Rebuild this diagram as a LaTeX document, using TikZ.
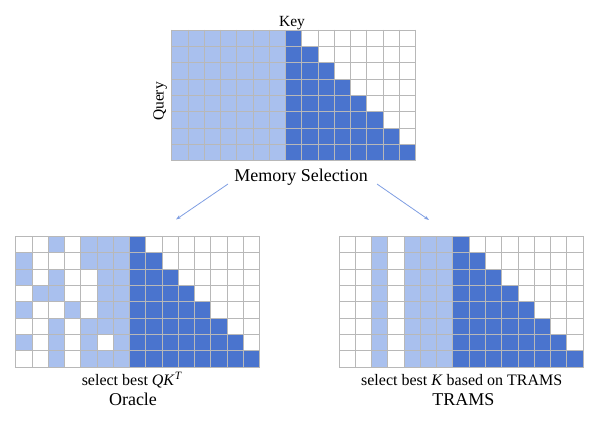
\documentclass[tikz,border=0pt]{standalone}
\usepackage{fontspec}
\setmainfont{Liberation Serif}
\usetikzlibrary{arrows.meta}
\definecolor{lightcell}{HTML}{A9C0EE}
\definecolor{darkcell}{HTML}{4A74CE}
\definecolor{gridgray}{HTML}{B8B8B8}
\definecolor{arrowblue}{HTML}{7F9EE2}
\def\cw{16.27}
\def\ch{16.35}
\newcommand{\lightcol}[1]{\foreach \r in {0,...,7} \fill[lightcell] (#1*\cw,\r*\ch) rectangle ++(\cw,\ch);}
\newcommand{\darkandlines}{%
  \foreach \r in {0,...,7}{%
    \pgfmathtruncatemacro\e{7+\r}%
    \foreach \c in {7,...,\e} \fill[darkcell] (\c*\cw,\r*\ch) rectangle ++(\cw,\ch);
  }
  \foreach \c in {0,...,15} \draw[gridline] (\c*\cw,0) -- (\c*\cw,8*\ch);
  \foreach \r in {0,...,8} \draw[gridline] (0,\r*\ch) -- (15*\cw,\r*\ch);
}
\begin{document}
\begin{tikzpicture}[x=1pt,y=-1pt,
  gridline/.style={draw=gridgray,line width=0.9pt,line cap=rect},
  lbl/.style={inner sep=0pt,anchor=base,font=\fontsize{16}{19}\selectfont},
  big/.style={inner sep=0pt,anchor=base,font=\fontsize{18}{21}\selectfont},
  arr/.style={draw=arrowblue,line width=0.8pt,-{Stealth[length=5pt,width=3.5pt]}}]
\useasboundingbox (0,0) rectangle (598,422);
% top grid
\begin{scope}[shift={(171.7,30)}]
  \foreach \c in {0,...,6} {\lightcol{\c}}
  \darkandlines
\end{scope}
% oracle grid
\begin{scope}[shift={(15.7,236.5)}]
  \foreach \c/\r in {2/0,4/0,5/0,6/0, 0/1,4/1,5/1,6/1, 0/2,2/2,5/2,6/2, 1/3,2/3,5/3,6/3,
                     0/4,3/4,5/4,6/4, 2/5,4/5,5/5,6/5, 0/6,2/6,4/6,6/6, 2/7,4/7,5/7,6/7}
    \fill[lightcell] (\c*\cw,\r*\ch) rectangle ++(\cw,\ch);
  \darkandlines
\end{scope}
% trams grid
\begin{scope}[shift={(339,236.5)}]
  \foreach \c in {2,4,5,6} {\lightcol{\c}}
  \darkandlines
\end{scope}
% labels
\node[lbl,font=\fontsize{15.5}{18}\selectfont] (key) at (292,27) {Key};
\node[lbl,font=\fontsize{15.5}{18}\selectfont,rotate=90] (query) at (163.5,101.5) {Query};
\node[big] (memsel) at (301,182) {Memory Selection};
\node[lbl] (sel1) at (132,386) {select best \textit{QK}\textsuperscript{\textit{T}}};
\node[big] (oracle) at (133,406) {Oracle};
\node[lbl] (sel2) at (461.7,386) {select best \textit{K} based on TRAMS};
\node[big] (trams) at (463.3,406) {TRAMS};
% arrows
\coordinate (ls) at (228,184);
\coordinate (le) at (176,219.5);
\coordinate (rs) at (377,184);
\coordinate (re) at (429,220);
\draw[arr] (ls) -- (le);
\draw[arr] (rs) -- (re);
\end{tikzpicture}
\end{document}
